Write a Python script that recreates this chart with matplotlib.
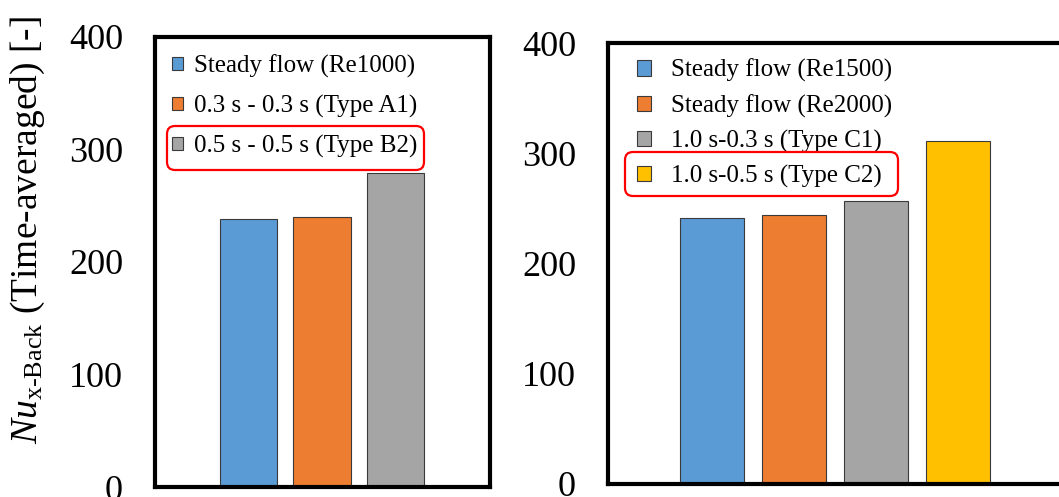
import matplotlib
matplotlib.use("Agg")
import matplotlib.pyplot as plt
from matplotlib.patches import Patch, FancyBboxPatch
from matplotlib.transforms import Affine2D

plt.rcParams['font.family'] = ['Liberation Serif', 'DejaVu Serif']
plt.rcParams['mathtext.fontset'] = 'custom'
plt.rcParams['mathtext.rm'] = 'Liberation Serif'
plt.rcParams['mathtext.it'] = 'Liberation Serif:italic'
plt.rcParams['mathtext.bf'] = 'Liberation Serif:bold'

# ---- data ----
left_labels = ["Steady flow (Re1000)", "0.3 s - 0.3 s (Type A1)", "0.5 s - 0.5 s (Type B2)"]
left_values = [238, 240, 279]
left_colors = ["#5B9BD5", "#ED7D31", "#A5A5A5"]

right_labels = ["Steady flow (Re1500)", "Steady flow (Re2000)", "1.0 s-0.3 s (Type C1)", "1.0 s-0.5 s (Type C2)"]
right_values = [241, 244, 257, 311]
right_colors = ["#5B9BD5", "#ED7D31", "#A5A5A5", "#FFC000"]

yticks = [0, 100, 200, 300, 400]
ylabel = r"$\mathit{Nu}_{\mathrm{x\text{-}Back}}$ (Time-averaged) [-]"

W, H = 1059, 497
fig = plt.figure(figsize=(W / 100, H / 100), dpi=100)

def px_ax(x0, x1, ytop, ybot):
    return fig.add_axes([x0 / W, 1 - ybot / H, (x1 - x0) / W, (ybot - ytop) / H])

axL = px_ax(155, 490, 37, 487)
axR = px_ax(608, 1075, 43, 484)

def style(ax):
    ax.set_ylim(0, 400)
    ax.set_yticks(yticks)
    ax.set_yticklabels([str(t) for t in yticks])
    ax.set_xticks([])
    ax.tick_params(axis='y', length=0, pad=23, labelsize=26)
    for s in ax.spines.values():
        s.set_linewidth(3.0)
        s.set_color('black')

# left
xl = list(range(len(left_values)))
barsL = axL.bar(xl, left_values, width=0.78, color=left_colors, edgecolor='#3a3a3a', linewidth=0.8)
axL.set_xlim(-1.27, 3.28)
style(axL)

# right
xr = list(range(len(right_values)))
barsR = axR.bar(xr, right_values, width=0.78, color=right_colors, edgecolor='#3a3a3a', linewidth=0.8)
axR.set_xlim(-1.27, 4.43)
style(axR)

handlesL = [Patch(facecolor=c, edgecolor='#3a3a3a', linewidth=0.8) for c in left_colors]
legL = axL.legend(handlesL, left_labels, loc='upper left', bbox_to_anchor=(0.051, 0.961),
                  frameon=False, fontsize=18, handlelength=0.44, handleheight=0.44,
                  handletextpad=0.44, labelspacing=0.68, borderpad=0, borderaxespad=0)

handlesR = [Patch(facecolor=c, edgecolor='#3a3a3a', linewidth=0.8) for c in right_colors]
legR = axR.legend(handlesR, right_labels, loc='upper left', bbox_to_anchor=(0.062, 0.964),
                  frameon=False, fontsize=18, handlelength=0.56, handleheight=0.56,
                  handletextpad=0.8, labelspacing=0.48, borderpad=0, borderaxespad=0)

fig.text(28 / W, 1 - 230 / H, ylabel, rotation=90, ha='center', va='center', fontsize=27)

# red highlight boxes (pixel coords, origin top-left)
tr = Affine2D().scale(1, -1).translate(0, H)
for (x0, y0, x1, y1) in [(167, 126, 424, 170), (625, 152, 898, 196)]:
    box = FancyBboxPatch((x0, y0), x1 - x0, y1 - y0,
                         boxstyle="round,pad=0,rounding_size=8",
                         transform=tr, fill=False, edgecolor='#FF0000', linewidth=1.6)
    fig.patches.append(box)

fig.savefig("out.png", dpi=100)
